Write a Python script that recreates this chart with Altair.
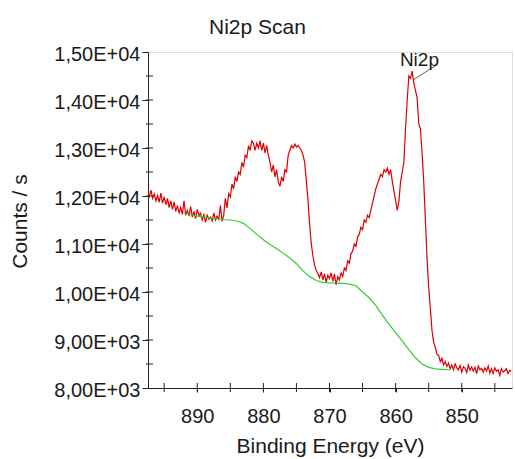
import altair as alt
import pandas as pd

# ---- data ----
# Raw Ni2p spectrum: counts/s, 0.25 eV steps from 897.5 eV down to 842.5 eV
e_start = 897.5
e_step = 0.25
counts = [
    12080, 11990, 12120, 11950,  # 897.5
    12040, 11900, 12010, 11870,  # 896.5
    12060, 11850, 11980, 11820,  # 895.5
    11950, 11760, 11900, 11720,  # 894.5
    11880, 11680, 11800, 11650,  # 893.5
    11760, 11620, 11900, 11600,  # 892.5
    11700, 11580, 11780, 11560,  # 891.5
    11680, 11530, 11720, 11590,  # 890.5
    11640, 11500, 11610, 11450,  # 889.5
    11600, 11520, 11560, 11480,  # 888.5
    11650, 11500, 11580, 11520,  # 887.5
    11800, 11470, 11600, 11950,  # 886.5
    11750, 12050, 11980, 12250,  # 885.5
    12150, 12400, 12300, 12500,  # 884.5
    12450, 12700, 12600, 12850,  # 883.5
    12800, 13050, 12950, 13150,  # 882.5
    13100, 12950, 13100, 13000,  # 881.5
    13150, 12950, 13100, 12900,  # 880.5
    13050, 12850, 12700, 12500,  # 879.5
    12650, 12400, 12550, 12300,  # 878.5
    12200, 12400, 12300, 12550,  # 877.5
    12500, 12850, 12950, 13050,  # 876.5
    13000, 13080, 13020, 13050,  # 875.5
    13000, 12950, 12850, 12700,  # 874.5
    12300, 11900, 11400, 11000,  # 873.5
    10750, 10550, 10450, 10380,  # 872.5
    10300, 10420, 10250, 10380,  # 871.5
    10200, 10350, 10280, 10400,  # 870.5
    10220, 10380, 10150, 10320,  # 869.5
    10250, 10400, 10320, 10500,  # 868.5
    10450, 10650, 10600, 10800,  # 867.5
    10850, 11000, 10950, 11150,  # 866.5
    11200, 11350, 11300, 11500,  # 865.5
    11450, 11600, 11550, 11700,  # 864.5
    11850, 12000, 12150, 12250,  # 863.5
    12350, 12450, 12400, 12550,  # 862.5
    12500, 12580, 12450, 12550,  # 861.5
    12300, 12100, 11900, 11700,  # 860.5
    11900, 12300, 12500, 12700,  # 859.5
    13400, 14000, 14500, 14450,  # 858.5
    14600, 14350, 14200, 14050,  # 857.5
    13500, 13400, 12900, 12300,  # 856.5
    11500, 10700, 10100, 9650,   # 855.5
    9200, 8950, 8850, 8700,      # 854.5
    8680, 8550, 8620, 8480,      # 853.5
    8550, 8450, 8520, 8400,      # 852.5
    8480, 8380, 8500, 8420,      # 851.5
    8380, 8470, 8330, 8440,      # 850.5
    8410, 8320, 8480, 8370,      # 849.5
    8440, 8350, 8430, 8300,      # 848.5
    8460, 8380, 8410, 8330,      # 847.5
    8420, 8350, 8460, 8310,      # 846.5
    8400, 8300, 8420, 8350,      # 845.5
    8380, 8260, 8400, 8330,      # 844.5
    8360, 8400, 8300, 8370,      # 843.5
    8350,                        # 842.5
]
energies = [round(e_start - e_step * i, 2) for i in range(len(counts))]

# Shirley-type background (green)
bg_energy = [892, 891, 890, 889, 888, 887, 886, 885, 884, 883, 882, 881, 880,
             879, 878, 877, 876, 875, 874, 873, 872, 871, 870, 869, 868, 867,
             866, 865, 864, 863, 862, 861, 860, 859, 858, 857, 856, 855, 854,
             853, 852, 851.8]
bg_counts = [11640, 11610, 11580, 11560, 11540, 11525, 11510, 11500, 11480,
             11430, 11320, 11200, 11090, 10990, 10900, 10810, 10710, 10590,
             10440, 10320, 10240, 10200, 10190, 10185, 10180, 10165, 10130,
             10000, 9880, 9720, 9520, 9330, 9150, 8980, 8800, 8630, 8500,
             8430, 8400, 8390, 8380, 8380]

# Peak annotation
ann_energy = [857.3, 853.7]
ann_counts = [14420, 14740]
label_text = ["Ni2p"]
label_energy = [856.4]
label_counts = [14700]

# Axis ticks and labels
x_ticks = [895, 890, 885, 880, 875, 870, 865, 860, 855, 850, 845]
x_major = [890, 880, 870, 860, 850]
y_major = [8000, 9000, 10000, 11000, 12000, 13000, 14000, 15000]
y_labels = ["8,00E+03", "9,00E+03", "1,00E+04", "1,10E+04", "1,20E+04",
            "1,30E+04", "1,40E+04", "1,50E+04"]
y_minor = [8500, 9000, 9500, 10000, 10500, 11000, 11500, 12000, 12500,
           13000, 13500, 14000, 14500]

# ---- chart ----
FONT = "Liberation Sans"
TXT = "#1a1a1a"
W, H = 364, 336

xscale = alt.Scale(domain=[842.4, 897.45], reverse=True, nice=False, zero=False)
yscale = alt.Scale(domain=[8000, 15000], nice=False, zero=False)


def lookup_expr(vals, labs):
    expr = "''"
    for v, s in zip(vals, labs):
        expr = f"datum.value == {v} ? '{s}' : ({expr})"
    return expr


x_axis = alt.Axis(values=x_major, format="d",
                  title="Binding Energy (eV)", grid=False, tickSize=4,
                  labelFontSize=20, labelFont=FONT, labelColor=TXT, labelPadding=14,
                  titleFontSize=21, titleFont=FONT, titleColor=TXT, titleFontWeight="normal",
                  titleX=W / 2, titleY=64, titleBaseline="alphabetic", titleAlign="center",
                  domainColor="#222", tickColor="#222")
y_axis = alt.Axis(values=y_major, labelExpr=lookup_expr(y_major, y_labels), title="Counts / s",
                  grid=False, tickSize=6, labelFontSize=20, labelFont=FONT, labelColor=TXT,
                  labelPadding=2, labelOffset=2, titleFontSize=21, titleFont=FONT,
                  titleColor=TXT, titleFontWeight="normal", titleX=-128, titleY=H / 2 + 1,
                  titleAngle=270, titleBaseline="middle", titleAlign="center",
                  domainColor="#222", tickColor="#222", labelFlush=False, labelOverlap=False)

raw_df = pd.DataFrame({"energy": energies, "counts": counts})
bg_df = pd.DataFrame({"energy": bg_energy, "counts": bg_counts})
ann_df = pd.DataFrame({"energy": ann_energy, "counts": ann_counts})
lab_df = pd.DataFrame({"energy": label_energy, "counts": label_counts, "text": label_text})
yt_df = pd.DataFrame({"counts": y_minor})
xt_df = pd.DataFrame({"energy": x_ticks})

raw = alt.Chart(raw_df).mark_line(color="#dd0000", strokeWidth=1.2, clip=True).encode(
    x=alt.X("energy:Q", scale=xscale, axis=x_axis),
    y=alt.Y("counts:Q", scale=yscale, axis=y_axis),
    order="energy:Q",
)
bg = alt.Chart(bg_df).mark_line(color="#33cc33", strokeWidth=1.2, clip=True).encode(
    x="energy:Q", y="counts:Q", order="energy:Q")
ann = alt.Chart(ann_df).mark_line(color="#333333", strokeWidth=0.8).encode(
    x="energy:Q", y="counts:Q")
lab = alt.Chart(lab_df).mark_text(font=FONT, fontSize=19, color=TXT, align="center",
                                  baseline="alphabetic").encode(
    x="energy:Q", y="counts:Q", text="text:N")
yt = alt.Chart(yt_df).mark_rule(color="#222", strokeWidth=1).encode(
    y="counts:Q", x=alt.value(-2), x2=alt.value(5))
xt = alt.Chart(xt_df).mark_rule(color="#222", strokeWidth=1).encode(
    x="energy:Q", y=alt.value(H - 5), y2=alt.value(H + 4))

chart = alt.layer(raw, bg, ann, lab, yt, xt).properties(
    width=W, height=H,
    title=alt.TitleParams("Ni2p Scan", anchor="start", dx=61, dy=30, frame="group",
                          fontSize=21, font=FONT, fontWeight="normal", color=TXT,
                          baseline="alphabetic", offset=19),
    autosize=alt.AutoSizeParams(type="none"),
    padding={"left": 148, "top": 52, "right": 3, "bottom": 71},
).configure_view(stroke="#222", strokeWidth=1).configure(background="white")

chart.save("out.html", embed_options={"renderer": "svg", "actions": False})
